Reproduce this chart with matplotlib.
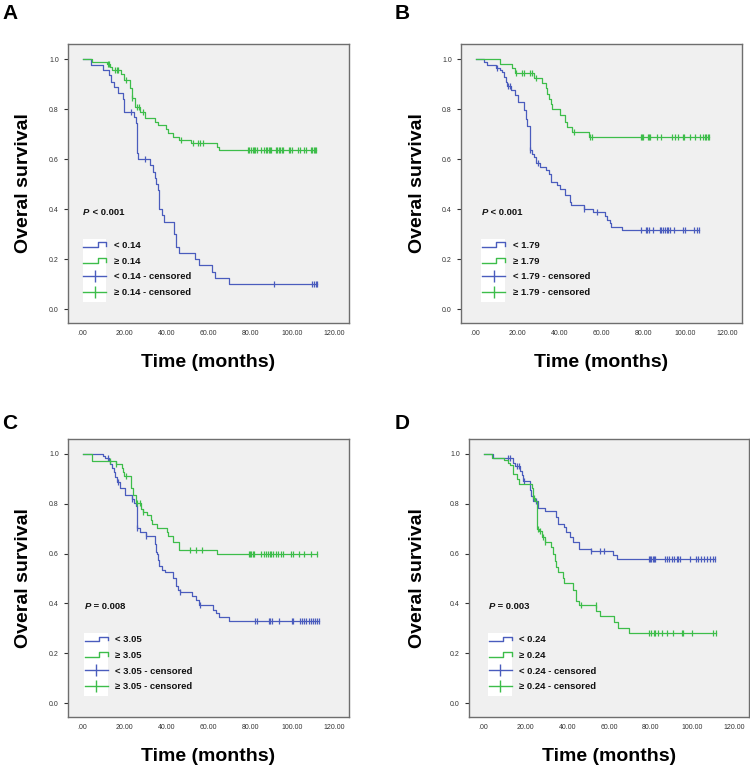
import numpy as np
import matplotlib
matplotlib.use("Agg")
import matplotlib.pyplot as plt
from matplotlib.lines import Line2D
from matplotlib.patches import Rectangle
from matplotlib.legend_handler import HandlerBase

plt.rcParams['font.family'] = ['Liberation Sans', 'DejaVu Sans']

# ---- data ----
# panel A
a_lo_t = [4.0, 9.5, 12.7, 13.5, 15.1, 16.7, 19.0, 19.8, 24.3, 25.4, 25.8, 26.4, 32.0, 33.5, 34.5, 35.2,
          35.8, 36.2, 38.0, 38.8, 43.4, 44.7, 45.8, 53.7, 55.5, 61.5, 63.0, 70.0]
a_lo_s = [0.975, 0.955, 0.935, 0.91, 0.89, 0.865, 0.84, 0.79, 0.77, 0.745, 0.625, 0.6, 0.575, 0.55, 0.525, 0.5,
          0.475, 0.4, 0.375, 0.35, 0.3, 0.25, 0.225, 0.2, 0.175, 0.15, 0.125, 0.1]
a_lo_c = [23.0, 29.8, 91.0, 109.5, 110.3, 111.1, 111.8]
a_hi_t = [4.5, 11.8, 12.8, 13.8, 18.5, 19.5, 22.8, 23.3, 24.9, 27.3, 29.6, 34.4, 36.0, 39.6, 40.7, 43.1,
          46.0, 51.6, 64.0, 65.0]
a_hi_s = [0.99, 0.98, 0.97, 0.955, 0.94, 0.915, 0.885, 0.845, 0.81, 0.79, 0.765, 0.75, 0.735, 0.72, 0.705, 0.69,
          0.678, 0.665, 0.65, 0.635]
a_hi_c = [12.2, 12.6, 15.4, 16.2, 17.0, 20.6, 23.6, 25.7, 26.8, 28.8, 46.8, 52.4, 55.1, 56.0, 57.6,
          78.7, 79.4, 80.1, 81.0, 81.7, 82.4, 83.2, 85.1, 86.7, 87.4, 88.0, 88.7, 89.3, 89.8, 92.2, 92.8,
          93.5, 94.2, 94.9, 95.6, 98.6, 99.1, 99.7, 102.9, 103.7, 105.7, 106.5, 108.9, 109.5, 110.1, 110.7, 111.3]

# panel B
b_lo_t = [3.9, 5.2, 9.9, 11.8, 12.6, 13.7, 14.5, 15.0, 17.0, 18.6, 20.2, 23.0, 23.8, 24.6, 25.7, 27.0,
          27.8, 29.0, 30.5, 33.3, 34.9, 35.7, 38.9, 40.1, 42.8, 44.8, 45.6, 51.5, 56.0, 61.8, 62.6, 63.9,
          64.7, 69.7]
b_lo_s = [0.99, 0.978, 0.965, 0.958, 0.947, 0.93, 0.91, 0.893, 0.876, 0.855, 0.83, 0.795, 0.762, 0.733, 0.636, 0.62,
          0.607, 0.585, 0.57, 0.555, 0.54, 0.509, 0.496, 0.48, 0.456, 0.43, 0.416, 0.399, 0.387, 0.374, 0.356, 0.343,
          0.33, 0.316]
b_lo_c = [10.0, 15.5, 16.3, 25.8, 29.7, 51.5, 57.8, 78.7, 81.0, 81.8, 82.6, 84.6, 87.8, 88.6, 89.4, 90.2,
          91.0, 91.7, 92.5, 94.6, 98.9, 99.7, 103.9, 105.7, 106.3]
b_hi_t = [11.7, 17.5, 18.8, 27.8, 31.8, 33.6, 34.1, 34.9, 35.7, 36.5, 40.4, 42.5, 43.6, 45.7, 54.0]
b_hi_s = [0.98, 0.965, 0.945, 0.925, 0.905, 0.885, 0.86, 0.84, 0.82, 0.8, 0.775, 0.75, 0.73, 0.71, 0.69]
b_hi_c = [19.1, 22.3, 23.2, 25.8, 26.7, 28.9, 46.8, 54.7, 55.5, 78.7, 79.1, 79.6, 82.0, 82.6, 83.3, 86.7,
          88.6, 93.7, 94.9, 96.5, 98.9, 99.5, 102.1, 104.7, 106.8, 108.4, 109.2, 110.0, 110.7, 111.5]

# panel C
c_lo_t = [9.7, 10.5, 12.5, 13.2, 14.1, 14.9, 15.6, 16.4, 17.7, 20.1, 23.6, 24.4, 25.5, 26.0, 27.1, 30.0,
          34.3, 34.8, 35.5, 36.0, 36.5, 38.0, 39.1, 43.1, 44.4, 45.5, 46.3, 52.1, 54.2, 55.5, 62.1, 63.4,
          64.8, 70.0]
c_lo_s = [0.991, 0.985, 0.975, 0.961, 0.944, 0.928, 0.908, 0.888, 0.864, 0.837, 0.821, 0.805, 0.792, 0.701, 0.685,
          0.672, 0.638, 0.607, 0.6, 0.575, 0.55, 0.535, 0.525, 0.5, 0.47, 0.455, 0.445, 0.43, 0.415, 0.395, 0.375,
          0.36, 0.345, 0.33]
c_lo_c = [12.0, 16.9, 23.6, 26.0, 30.0, 46.6, 55.8, 82.4, 83.0, 88.7, 89.4, 90.3, 93.8, 99.7, 100.2, 103.8,
          104.6, 105.7, 106.5, 107.8, 108.9, 109.7, 110.8, 111.6, 112.5]
c_hi_t = [4.3, 15.7, 18.6, 19.4, 19.9, 23.1, 23.9, 25.5, 27.9, 28.7, 30.5, 32.4, 33.2, 35.6, 40.0, 40.6,
          43.1, 45.9, 64.1]
c_hi_s = [0.972, 0.958, 0.944, 0.928, 0.912, 0.864, 0.837, 0.805, 0.778, 0.768, 0.755, 0.735, 0.72, 0.701, 0.685,
          0.672, 0.648, 0.614, 0.597]
c_hi_c = [12.9, 15.9, 20.5, 26.0, 27.1, 28.9, 51.1, 54.1, 57.0, 79.2, 79.9, 80.5, 81.1, 81.8, 84.8, 86.7,
          87.5, 88.3, 89.1, 89.9, 90.6, 92.2, 93.0, 94.6, 95.3, 99.4, 100.2, 103.0, 105.7, 108.9, 111.6]

# panel D
d_lo_t = [4.3, 14.2, 15.0, 17.4, 18.2, 19.0, 22.1, 22.9, 23.7, 26.1, 29.2, 34.8, 35.5, 38.7, 39.5, 41.1,
          42.7, 45.5, 51.3, 62.1, 63.7]
d_lo_s = [0.985, 0.965, 0.95, 0.93, 0.915, 0.89, 0.855, 0.83, 0.81, 0.785, 0.77, 0.745, 0.72, 0.705, 0.685, 0.665,
          0.645, 0.62, 0.61, 0.595, 0.578]
d_lo_c = [11.5, 12.6, 15.8, 16.9, 19.4, 25.3, 51.3, 55.8, 57.7, 79.0, 79.6, 80.3, 80.9, 81.5, 82.2, 86.6,
          87.7, 88.9, 90.0, 91.3, 92.4, 93.2, 94.0, 98.7, 101.6, 102.7, 103.8, 105.5, 107.1, 108.5, 109.8, 110.9]
d_hi_t = [4.0, 9.8, 11.5, 12.8, 13.9, 15.8, 16.9, 23.0, 23.7, 24.8, 25.6, 26.3, 28.0, 29.2, 32.1, 33.2,
          34.0, 34.8, 35.5, 37.9, 38.7, 42.7, 44.2, 45.8, 53.9, 55.8, 62.4, 64.5, 69.5]
d_hi_s = [0.985, 0.975, 0.965, 0.955, 0.92, 0.9, 0.88, 0.865, 0.825, 0.81, 0.7, 0.69, 0.665, 0.645, 0.625, 0.6,
          0.57, 0.545, 0.525, 0.5, 0.48, 0.455, 0.41, 0.395, 0.37, 0.35, 0.325, 0.3, 0.28]
d_hi_c = [24.2, 25.8, 27.0, 28.3, 29.6, 46.6, 53.7, 79.0, 80.1, 81.4, 82.2, 83.3, 85.3, 87.7, 90.8, 94.8,
          95.6, 99.8, 109.8, 111.4]

letters = ["A", "B", "C", "D"]
cutoffs = ["0.14", "1.79", "3.05", "0.24"]
p_texts = [" < 0.001", " < 0.001", " = 0.008", " = 0.003"]

xticks = [0, 20, 40, 60, 80, 100, 120]
xticklabels = [".00", "20.00", "40.00", "60.00", "80.00", "100.00", "120.00"]
yticks = [0.0, 0.2, 0.4, 0.6, 0.8, 1.0]
yticklabels = ["0.0", "0.2", "0.4", "0.6", "0.8", "1.0"]

BLUE = "#4a5cbd"
GREEN = "#3dbd4a"


class StepHandler(HandlerBase):
    def create_artists(self, legend, orig_handle, xdescent, ydescent, width, height, fontsize, trans):
        xs = np.array([0, 0.62, 0.62, 1.0, 1.0]) * width - xdescent
        ys = np.array([0.15, 0.15, 0.85, 0.85, 0.3]) * height - ydescent
        ln = Line2D(xs, ys, color=orig_handle.get_color(), lw=1.0)
        ln.set_transform(trans)
        return [ln]


def km(ax, t, s, c, color):
    x = np.r_[0.0, t]
    y = np.r_[1.0, s]
    end = max(max(c), x[-1])
    x = np.r_[x, end]
    y = np.r_[y, y[-1]]
    line, = ax.step(x, y, where="post", color=color, lw=0.9)
    c = np.asarray(c)
    idx = np.searchsorted(x, c, side="right") - 1
    ax.plot(c, y[idx], ls="none", marker="|", ms=4.5, mew=0.9, color=color)
    return line


fig = plt.figure(figsize=(7.5, 7.69), dpi=100)
W, H = 750, 769
boxes = [(68, 44, 281, 279), (461, 44, 281, 279), (68, 439, 281, 278), (469, 439, 280, 278)]
letter_pos = [(2, 4), (395, 4), (2, 414), (395, 414)]
ylab_x = [24, 418, 24, 418]
x_off = [0.3, 3.0, 1.0, 2.4]

data = [(a_lo_t, a_lo_s, a_lo_c, a_hi_t, a_hi_s, a_hi_c),
        (b_lo_t, b_lo_s, b_lo_c, b_hi_t, b_hi_s, b_hi_c),
        (c_lo_t, c_lo_s, c_lo_c, c_hi_t, c_hi_s, c_hi_c),
        (d_lo_t, d_lo_s, d_lo_c, d_hi_t, d_hi_s, d_hi_c)]

for i in range(4):
    l, t, w, h = boxes[i]
    ax = fig.add_axes([l / W, 1 - (t + h) / H, w / W, h / H])
    ax.set_facecolor("#f0f0f0")
    for sp in ax.spines.values():
        sp.set_color("#6e6e6e")
        sp.set_linewidth(1.0)

    lo_t, lo_s, lo_c, hi_t, hi_s, hi_c = data[i]
    l_lo = km(ax, lo_t, lo_s, lo_c, BLUE)
    l_hi = km(ax, hi_t, hi_s, hi_c, GREEN)

    ax.set_xlim(-7, 127)
    ax.set_ylim(-0.056, 1.06)
    ax.set_xticks(xticks)
    ax.set_xticklabels(xticklabels)
    ax.set_yticks(yticks)
    ax.set_yticklabels(yticklabels)
    ax.tick_params(axis="both", labelsize=5, colors="#333333", length=3, width=0.8)
    ax.tick_params(axis="x", length=0, pad=5)

    ax.set_xlabel("Time (months)", fontsize=14, fontweight="bold")
    ax.xaxis.label.set_va("center")
    ax.xaxis.set_label_coords(0.5, -0.143)
    ax.set_ylabel("Overal survival", fontsize=14, fontweight="bold")
    ax.yaxis.label.set_va("center")
    ax.yaxis.set_label_coords(ylab_x[i] / W, 1 - (t + h / 2) / H, transform=fig.transFigure)

    x0 = x_off[i]
    tp = ax.text(x0, 0.388, "P", fontsize=6.8, fontweight="bold", fontstyle="italic",
                 va="center", ha="left", color="#111111")
    ax.annotate(p_texts[i], xy=(1, 0.5), xycoords=tp, va="center", ha="left",
                fontsize=6.8, fontweight="bold", color="#111111")

    ax.add_patch(Rectangle((x0 - 0.3, 0.03), 11.3, 0.25, facecolor="white", edgecolor="none", zorder=1.5))
    c_lo = Line2D([], [], color=BLUE, marker="|", ms=8, mew=1.0, lw=1.0)
    c_hi = Line2D([], [], color=GREEN, marker="|", ms=8, mew=1.0, lw=1.0)
    cut = cutoffs[i]
    leg = ax.legend([l_lo, l_hi, c_lo, c_hi],
                    ["< " + cut, "\u2265 " + cut, "< " + cut + " - censored", "\u2265 " + cut + " - censored"],
                    loc="upper left", bbox_to_anchor=(x0, 0.272), bbox_transform=ax.transData,
                    frameon=False, borderpad=0, borderaxespad=0, handlelength=2.45, handletextpad=0.8,
                    labelspacing=0.7, numpoints=1,
                    prop={"size": 6.8, "weight": "bold"},
                    handler_map={l_lo: StepHandler(), l_hi: StepHandler()})
    for txt in leg.get_texts():
        txt.set_color("#111111")

    fig.text(letter_pos[i][0] / W, 1 - letter_pos[i][1] / H, letters[i], fontsize=15,
             fontweight="bold", va="top", ha="left")

fig.savefig("out.png", dpi=100, facecolor="white")
